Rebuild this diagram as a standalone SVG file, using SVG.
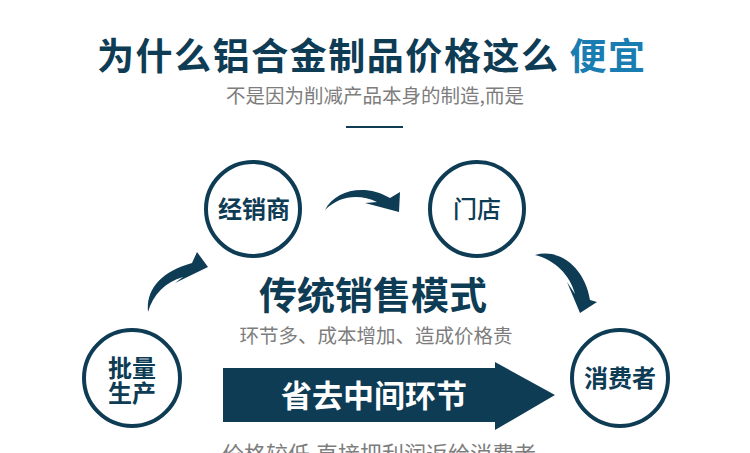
<svg xmlns="http://www.w3.org/2000/svg" width="750" height="453" viewBox="0 0 750 453">
<style>
text{font-family:"Noto Sans CJK SC","Noto Sans",sans-serif;}
.dark{fill:#0e3c55;}
.gray{fill:#7d7d7d;}
.ring{fill:#fff;stroke:#0e3c55;stroke-width:4;}
.lbl{font-size:24px;font-weight:bold;fill:#0e3c55;text-anchor:middle;}
.arc{fill:#0e3c55;}
</style>
<rect width="750" height="453" fill="#fff"/>
<g id="header">
<text x="371" y="70" font-size="37" font-weight="bold" text-anchor="middle" class="dark" textLength="548" lengthAdjust="spacing">为什么铝合金制品价格这么 <tspan fill="#1a7db2">便宜</tspan></text>
<text x="375" y="103" font-size="19.5" text-anchor="middle" class="gray">不是因为削减产品本身的制造,而是</text>
<line x1="346" y1="127" x2="403" y2="127" stroke="#0e3c55" stroke-width="2"/>
</g>
<g id="node-jxs">
<circle cx="253" cy="209" r="47" class="ring"/>
<text x="254" y="218" class="lbl">经销商</text>
</g>
<g id="node-md">
<circle cx="477" cy="209" r="47" class="ring"/>
<text x="477" y="218" class="lbl" style="font-weight:500">门店</text>
</g>
<g id="node-plsc">
<circle cx="132" cy="378" r="48" class="ring"/>
<text x="132" y="377" class="lbl">批量</text>
<text x="132" y="402" class="lbl">生产</text>
</g>
<g id="node-xfz">
<circle cx="620" cy="378" r="48" class="ring"/>
<text x="620" y="387" class="lbl">消费者</text>
</g>
<g id="center">
<text x="373" y="309" font-size="38" font-weight="bold" text-anchor="middle" class="dark">传统销售模式</text>
<text x="376" y="343" font-size="19.5" text-anchor="middle" class="gray">环节多、成本增加、造成价格贵</text>
</g>
<g id="connectors">
<path class="arc" d="M148,312 C146,290 160,272 192,263 L197,252 L208,267 L175,283 L183,277 C165,282 153,295 148,312 Z"/>
<path class="arc" d="M325,210 C335,190 365,183 390,198 L400,192 L399,212 L365,203 L377,202 C360,194 340,195 325,210 Z"/>
<path class="arc" d="M535,255 C560,248 585,268 590,300 L597,302 L580,313 L567,282 L575,294 C570,275 555,260 535,255 Z"/>
<path class="arc" d="M223,368 L495,368 L495,362 L555,395 L495,430 L495,422 L223,422 Z"/>
<text x="374" y="407" font-size="31" font-weight="bold" text-anchor="middle" fill="#fff">省去中间环节</text>
</g>
<g id="footer">
<text x="379" y="462" font-size="22" text-anchor="middle" class="gray">价格较低,直接把利润返给消费者</text>
</g>
</svg>
